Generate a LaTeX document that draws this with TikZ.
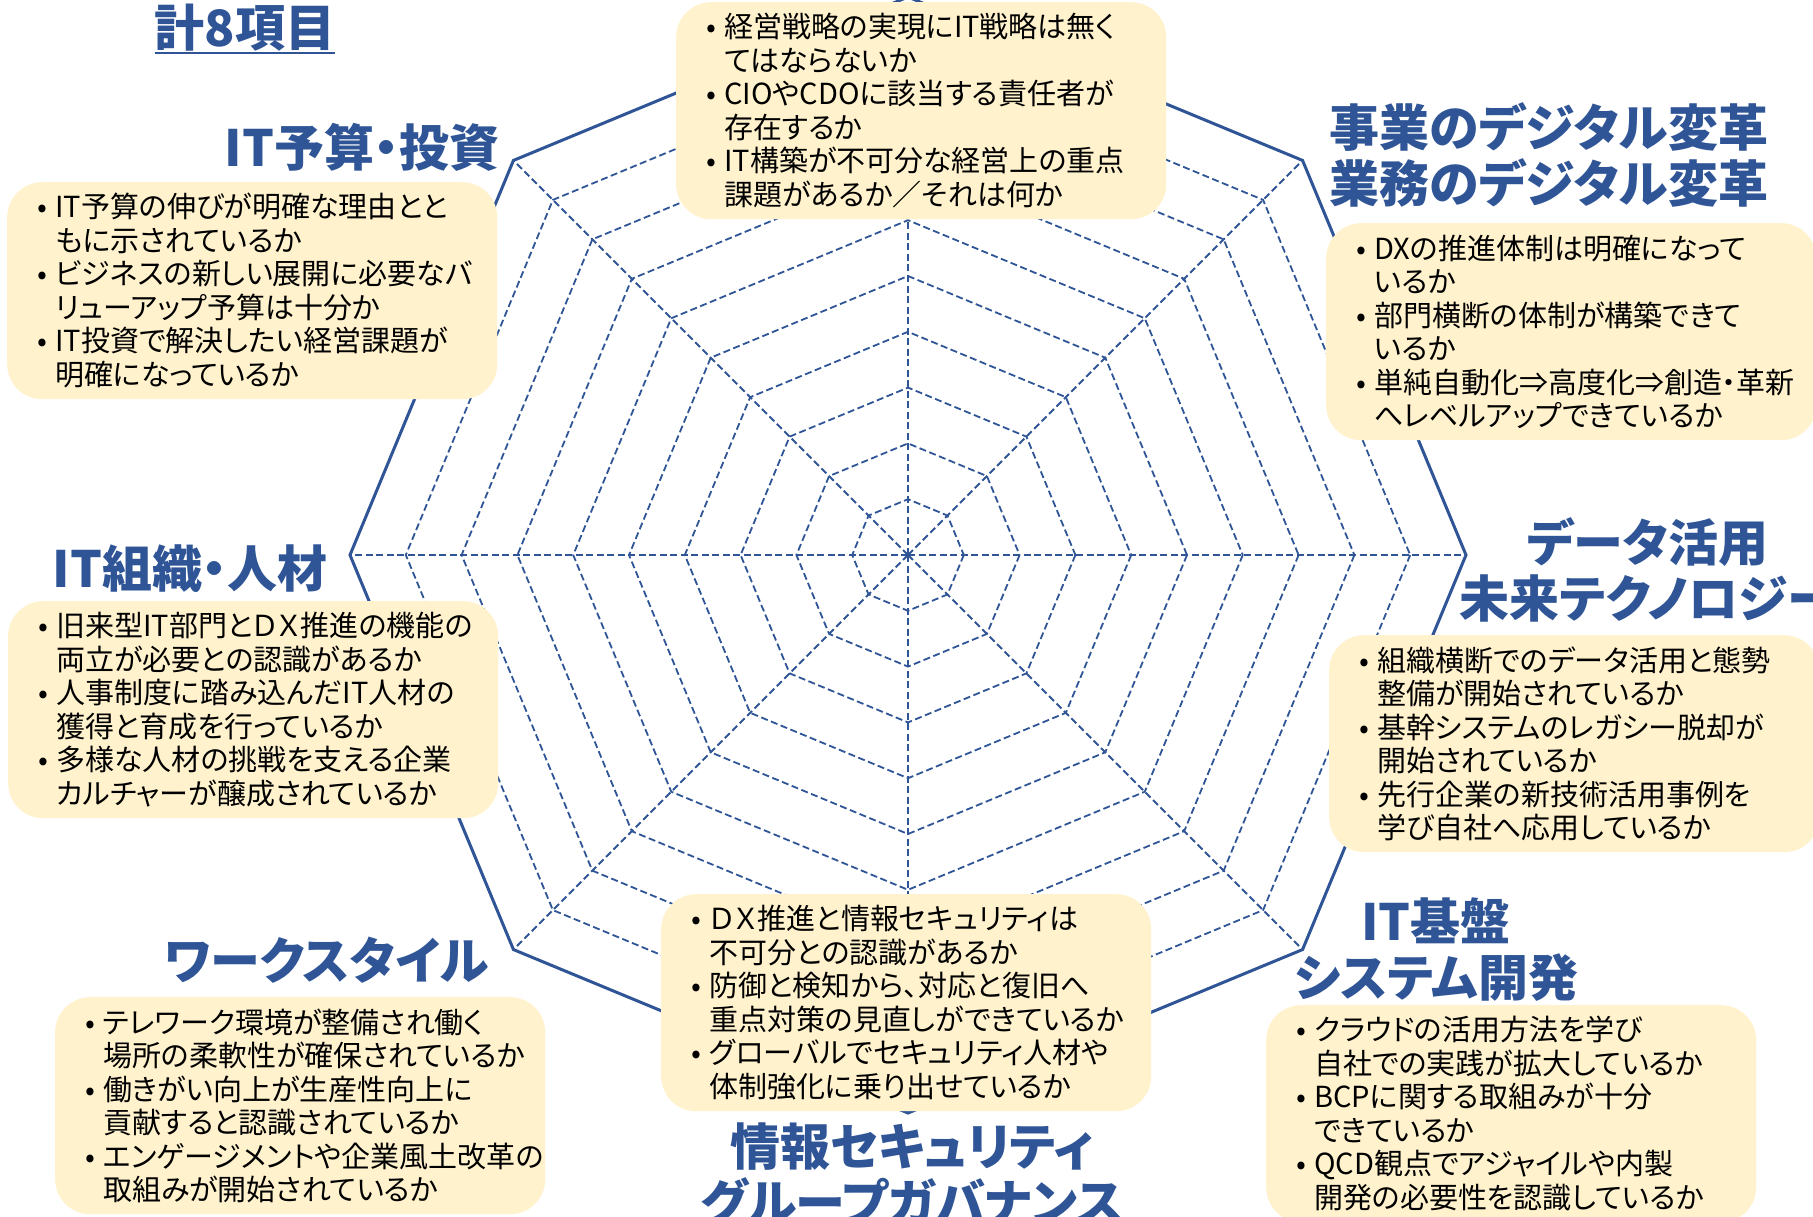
\documentclass[tikz,border=0pt]{standalone}
\usepackage{fontspec}
\newfontfamily\jp[RawFeature=+palt]{Noto Sans CJK JP}
\definecolor{dxblue}{HTML}{2F5597}
\definecolor{boxfill}{HTML}{FFF2CC}
\newcommand\qitem[2]{\makebox[26pt]{•}\mbox{#1}\\\hspace*{26pt}\mbox{#2}}
\begin{document}
\begin{tikzpicture}[x=1pt,y=-1pt,
  ring/.style={draw=dxblue, line width=1.8pt, dash pattern=on 7pt off 3.5pt},
  outerring/.style={draw=dxblue, line width=3pt, line join=miter},
  qbox/.style={fill=boxfill, rounded corners=35pt, minimum width=490pt, minimum height=217pt,
    inner xsep=22pt, inner ysep=0pt, text width=446pt, align=left, anchor=north west,
    font=\jp\fontsize{29}{33.5}\selectfont, text=black},
  head/.style={text=dxblue, font=\jp\bfseries\fontsize{50}{56}\selectfont, align=center, inner sep=0pt},
]
\useasboundingbox (0,0) rectangle (1813,1217);
\fill[white] (0,0) rectangle (1813,1217);

% radar web
\begin{scope}[shift={(908,555)}]
  \foreach \k in {1,...,9}{
    \pgfmathsetmacro\r{\k*55.8}
    \draw[ring] (0:\r) -- (45:\r) -- (90:\r) -- (135:\r) -- (180:\r) -- (225:\r) -- (270:\r) -- (315:\r) -- cycle;
  }
  \foreach \a in {0,45,...,315}
    \draw[ring] (0,0) -- (\a:558);
  \draw[outerring] (0:558) -- (45:558) -- (90:558) -- (135:558) -- (180:558) -- (225:558) -- (270:558) -- (315:558) -- cycle;
\end{scope}

% question boxes
\node[qbox] (bA) at (676,2) {%
\qitem{経営戦略の実現にIT戦略は無く}{てはならないか}\\
\qitem{CIOやCDOに該当する責任者が}{存在するか}\\
\qitem{IT構築が不可分な経営上の重点}{課題があるか／それは何か}};

\node[qbox] (bB) at (7,182) {%
\qitem{IT予算の伸びが明確な理由とと}{もに示されているか}\\
\qitem{ビジネスの新しい展開に必要なバ}{リューアップ予算は十分か}\\
\qitem{IT投資で解決したい経営課題が}{明確になっているか}};

\node[qbox] (bC) at (1326,223) {%
\qitem{DXの推進体制は明確になって}{いるか}\\
\qitem{部門横断の体制が構築できて}{いるか}\\
\qitem{単純自動化⇒高度化⇒創造・革新}{へレベルアップできているか}};

\node[qbox] (bD) at (8,601) {%
\qitem{旧来型IT部門とＤＸ推進の機能の}{両立が必要との認識があるか}\\
\qitem{人事制度に踏み込んだIT人材の}{獲得と育成を行っているか}\\
\qitem{多様な人材の挑戦を支える企業}{カルチャーが醸成されているか}};

\node[qbox] (bE) at (1329,635) {%
\qitem{組織横断でのデータ活用と態勢}{整備が開始されているか}\\
\qitem{基幹システムのレガシー脱却が}{開始されているか}\\
\qitem{先行企業の新技術活用事例を}{学び自社へ応用しているか}};

\node[qbox] (bF) at (55,997) {%
\qitem{テレワーク環境が整備され働く}{場所の柔軟性が確保されているか}\\
\qitem{働きがい向上が生産性向上に}{貢献すると認識されているか}\\
\qitem{エンゲージメントや企業風土改革の}{取組みが開始されているか}};

\node[qbox] (bG) at (661,894) {%
\qitem{ＤＸ推進と情報セキュリティは}{不可分との認識があるか}\\
\qitem{防御と検知から、対応と復旧へ}{重点対策の見直しができているか}\\
\qitem{グローバルでセキュリティ人材や}{体制強化に乗り出せているか}};

\node[qbox] (bH) at (1266,1005) {%
\qitem{クラウドの活用方法を学び}{自社での実践が拡大しているか}\\
\qitem{BCPに関する取組みが十分}{できているか}\\
\qitem{QCD観点でアジャイルや内製}{開発の必要性を認識しているか}};

% headings
\node[head] (tot) at (245,28) {計8項目};
\draw[dxblue, line width=2.2pt] ([yshift=-1pt]tot.south west) -- ([yshift=-1pt]tot.south east);
\node[head] (hB) at (362,147) {IT予算・投資};
\node[head] (hC) at (1549,155) {事業のデジタル変革\\業務のデジタル変革};
\node[head] (hE) at (1648,570) {データ活用\\未来テクノロジー};
\node[head] (hD) at (190,569) {IT組織・人材};
\node[head] (hF) at (327,960) {ワークスタイル};
\node[head] (hG) at (912,1175) {情報セキュリティ\\グループガバナンス};
\node[head] (hH) at (1436,950) {IT基盤\\システム開発};
\end{tikzpicture}
\end{document}
